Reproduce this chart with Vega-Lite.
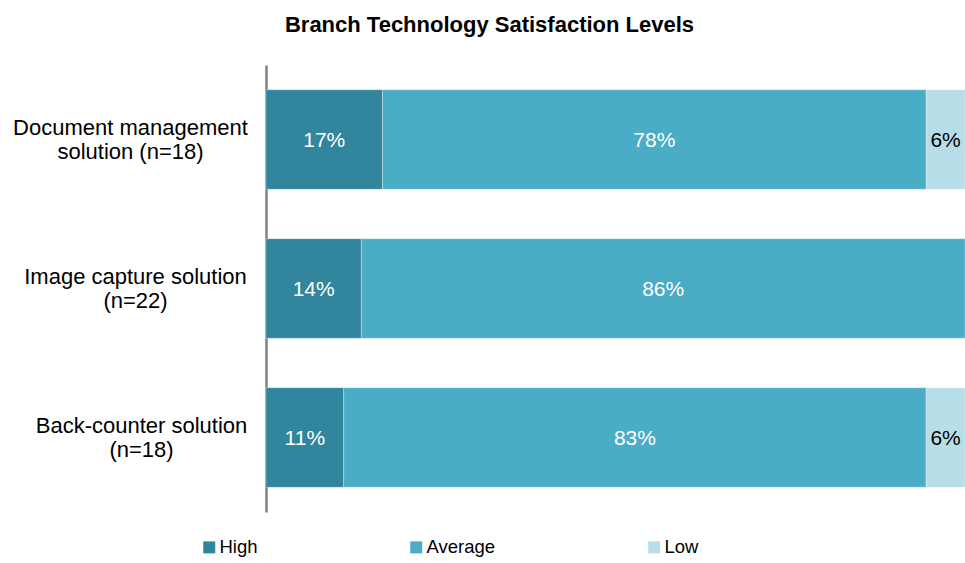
{
  "$schema": "https://vega.github.io/schema/vega-lite/v6.json",
  "width": 699,
  "height": 447,
  "autosize": "none",
  "padding": {"left": 266, "top": 65, "right": 0, "bottom": 51},
  "background": "#ffffff",
  "config": {"view": {"stroke": null}, "font": "Liberation Sans"},
  "title": {
    "text": "Branch Technology Satisfaction Levels",
    "font": "Liberation Sans",
    "fontSize": 22,
    "fontWeight": "bold",
    "color": "#000000",
    "anchor": "middle",
    "dx": -126,
    "offset": 28
  },
  "data": {
    "values": [
      {"item": "Document management|solution (n=18)", "level": "High", "value": 0.1667},
      {"item": "Document management|solution (n=18)", "level": "Average", "value": 0.7778},
      {"item": "Document management|solution (n=18)", "level": "Low", "value": 0.0555},
      {"item": "Image capture solution|(n=22)", "level": "High", "value": 0.1364},
      {"item": "Image capture solution|(n=22)", "level": "Average", "value": 0.8636},
      {"item": "Back-counter solution|(n=18)", "level": "High", "value": 0.1111},
      {"item": "Back-counter solution|(n=18)", "level": "Average", "value": 0.8333},
      {"item": "Back-counter solution|(n=18)", "level": "Low", "value": 0.0556}
    ]
  },
  "transform": [
    {"calculate": "indexof(['High','Average','Low'], datum.level)", "as": "ord"},
    {"stack": "value", "groupby": ["item"], "sort": [{"field": "ord"}], "as": ["v0", "v1"]},
    {"calculate": "(datum.v0 + datum.v1) / 2", "as": "mid"}
  ],
  "encoding": {
    "y": {
      "field": "item",
      "type": "nominal",
      "sort": null,
      "scale": {"paddingInner": 0.332, "paddingOuter": 0.166},
      "axis": {
        "title": null,
        "ticks": false,
        "grid": false,
        "domain": true,
        "domainColor": "#808080",
        "domainWidth": 2.5,
        "labelExpr": "split(datum.value, '|')",
        "labelFont": "Liberation Sans",
        "labelFontSize": 22,
        "labelColor": "#000000",
        "labelAlign": "center",
        "labelBaseline": "middle",
        "labelLineHeight": 24,
        "labelOffset": -12,
        "labelLimit": 400,
        "labelPadding": {
          "condition": [
            {"test": "indexof(datum.value, 'Document') === 0", "value": 136},
            {"test": "indexof(datum.value, 'Image') === 0", "value": 131}
          ],
          "value": 125
        }
      }
    }
  },
  "layer": [
    {
      "mark": {"type": "bar", "stroke": "#ffffff", "strokeWidth": 0.5, "strokeOpacity": 0.6},
      "encoding": {
        "x": {
          "field": "v0",
          "type": "quantitative",
          "scale": {"domain": [0, 1], "nice": false},
          "axis": null
        },
        "x2": {"field": "v1"},
        "color": {
          "field": "level",
          "type": "nominal",
          "sort": ["High", "Average", "Low"],
          "scale": {"domain": ["High", "Average", "Low"], "range": ["#31859C", "#4BACC6", "#B7DEE8"]},
          "legend": {
            "title": null,
            "orient": "none",
            "direction": "horizontal",
            "legendX": -66,
            "legendY": 473,
            "symbolType": "square",
            "symbolSize": 144,
            "symbolStrokeWidth": 0,
            "labelFont": "Liberation Sans",
            "labelFontSize": 18.5,
            "labelColor": "#000000",
            "labelOffset": 1,
            "columnPadding": 149,
            "padding": 0
          }
        }
      }
    },
    {
      "mark": {"type": "text", "font": "Liberation Sans", "fontSize": 21, "baseline": "middle", "align": "center", "dy": 1},
      "encoding": {
        "x": {"field": "mid", "type": "quantitative"},
        "text": {"field": "value", "type": "quantitative", "format": ".0%"},
        "color": {
          "condition": {"test": "datum.level === 'Low'", "value": "#000000"},
          "value": "#ffffff"
        }
      }
    }
  ]
}
